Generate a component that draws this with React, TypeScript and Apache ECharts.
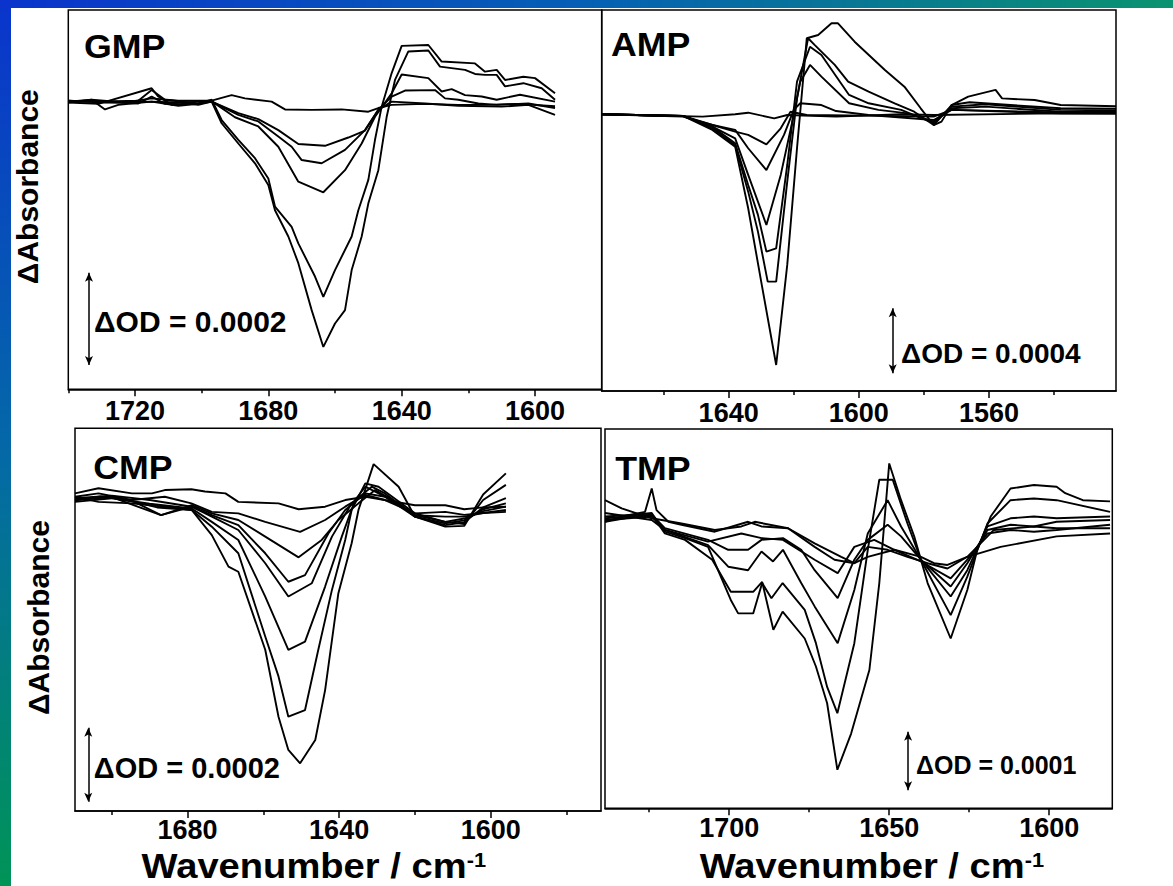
import React, { useEffect, useRef } from 'react';
import * as echarts from 'echarts';

const FONT = '"Liberation Sans", Arial, Helvetica, sans-serif';

// ---------------- DATA (wavenumber / cm-1, ΔA in units of 1e-4 OD) ----------------
// GMP
const GMP_1 = [[1740,0],[1733,0.04],[1723,-0.02],[1715,0.07],[1707,0.02],[1697,0.02],[1691,0.14],[1687,0.07],[1679,0],[1675,-0.17],[1667,-0.18],[1658,-0.17],[1650,-0.22],[1647,-0.14],[1643,-0.07],[1633,-0.05],[1623,-0.07],[1615,-0.07],[1605,-0.05],[1594,-0.1]];
const GMP_2 = [[1740,-0.02],[1733,0.04],[1729,-0.17],[1725,-0.07],[1715,0],[1707,-0.02],[1701,-0.07],[1697,0],[1689,-0.25],[1683,-0.38],[1677,-0.62],[1671,-0.92],[1663,-0.96],[1656,-0.78],[1651,-0.63],[1647,-0.18],[1643,0],[1633,-0.04],[1623,-0.09],[1610,-0.11],[1602,-0.07],[1594,-0.29]];
const GMP_3 = [[1740,0.02],[1733,0],[1719,-0.04],[1715,0.11],[1711,-0.05],[1701,0],[1697,0],[1689,-0.29],[1683,-0.43],[1677,-0.76],[1673,-0.98],[1670,-1.27],[1664,-1.34],[1657,-1.05],[1651,-0.62],[1647,-0.18],[1643,0.11],[1639,0.24],[1630,0.25],[1627,0.07],[1623,0.04],[1617,-0.04],[1611.5,-0.07],[1602,-0.04],[1594,-0.14]];
const GMP_4 = [[1740,-0.02],[1731,-0.05],[1715,0.29],[1713,0.11],[1709,-0.07],[1701,-0.04],[1697,0.01],[1690,-0.34],[1683,-0.54],[1677,-0.98],[1671,-1.74],[1663.5,-1.97],[1657,-1.49],[1652,-0.91],[1648,-0.33],[1643,0.18],[1640,0.59],[1632,0.51],[1628,0.22],[1625,0.27],[1621,0.14],[1616,0.11],[1611.5,0.04],[1604.5,0.15],[1594,0]];
const GMP_5 = [[1740,0],[1733,0],[1719,0.02],[1715,0.25],[1711,0.04],[1701,-0.04],[1697,0.04],[1694,-0.4],[1689,-0.83],[1684,-1.23],[1680,-1.67],[1678,-2.28],[1673,-2.72],[1671,-3.08],[1666,-3.8],[1663.5,-4.24],[1660,-3.66],[1655,-2.93],[1653,-2.36],[1650,-1.7],[1648,-0.83],[1646,-0.11],[1643,0.62],[1640,1.21],[1632,1.23],[1628,0.87],[1618,0.83],[1615,0.65],[1611.5,0.69],[1609,0.47],[1603.5,0.54],[1600,0.51],[1594,0.18]];
const GMP_6 = [[1740,0.02],[1729,-0.02],[1715,0],[1707,-0.09],[1701,-0.05],[1697,0],[1694,-0.47],[1689,-0.91],[1684,-1.34],[1680,-1.81],[1678,-2.36],[1674,-2.93],[1671,-3.51],[1667,-4.53],[1663.5,-5.33],[1660,-4.82],[1657,-4.53],[1655,-3.66],[1652,-2.93],[1650,-2.21],[1647,-1.49],[1644.5,-0.33],[1642,0.47],[1638,1.09],[1632,1.11],[1628.5,0.76],[1621,0.69],[1618,0.6],[1615,0.58],[1611.5,0.58],[1609,0.33],[1603.5,0.4],[1598,0.29],[1594,0.04]];

// AMP
const AMP_1 = [[1679,0],[1648,-0.14],[1638,0],[1634,0.1],[1626,-0.25],[1622,-0.04],[1607,-0.14],[1587,0],[1577,-0.04],[1538,0.06],[1521,0.04]];
const AMP_2 = [[1679,0],[1654,-0.14],[1645,-0.66],[1638,-1.07],[1634,-1.27],[1628.4,-1.85],[1624,-0.86],[1621,0.16],[1616,-0.04],[1597,-0.08],[1577,-0.14],[1571.5,0.27],[1538,0.06],[1521,0.04]];
const AMP_3 = [[1679,0],[1654,-0.1],[1645,-0.66],[1638,-0.96],[1634,-2.09],[1628.4,-3.43],[1623,-1.27],[1620,0.27],[1618,0.68],[1611.5,0.57],[1607,0.2],[1597,-0.04],[1577,-0.35],[1571.5,0.27],[1538,0.12],[1521,0.1]];
const AMP_4 = [[1679,0],[1654,-0.1],[1645,-0.76],[1638,-1.48],[1634,-3.73],[1628.4,-6.81],[1624,-3.73],[1620,-0.04],[1618,2.01],[1615,3.04],[1611.5,2.32],[1603,0.68],[1594,0.27],[1585,0.06],[1577,-0.45],[1571.5,0.37],[1561,0.47],[1538,0.16],[1521,0.14]];
const AMP_5 = [[1679,0],[1654,-0.1],[1645,-0.76],[1638,-1.78],[1634,-4.35],[1631,-6.19],[1628.4,-8.45],[1625.4,-8.25],[1622,-3.12],[1619,2.01],[1615,4.16],[1611.5,3.65],[1603,1.19],[1597,0.68],[1587,0.27],[1577,-0.55],[1571.5,0.47],[1561,0.62],[1538,0.27],[1521,0.25]];
const AMP_6 = [[1679,0],[1654,-0.1],[1645,-0.86],[1638,-1.89],[1634,-4.76],[1631,-7.22],[1628,-10.3],[1625.4,-10.3],[1622,-4.14],[1619,0.98],[1615.6,4.68],[1613.6,4.27],[1607.4,3.04],[1603.3,2.01],[1597,1.39],[1589,0.68],[1583,0.16],[1577,-0.66],[1571.5,0.57],[1566,0.74],[1538,0.37],[1521,0.35]];
const AMP_7 = [[1679,0],[1654,-0.1],[1645,-0.96],[1638,-1.99],[1634,-5.78],[1630,-10.3],[1625.4,-15.43],[1622,-9.27],[1619,-2.09],[1616,4.68],[1612.5,4.88],[1608.4,5.6],[1606.4,5.6],[1601.3,4.47],[1592,2.73],[1586,1.7],[1581,0.37],[1577,-0.66],[1574.6,-0.45],[1571.5,0.57],[1566.4,1.09],[1558,1.5],[1556,0.98],[1546,0.88],[1538,0.57],[1521,0.5]];

// CMP
const CMP_1 = [[1709.7,0.18],[1703.5,0.32],[1694.7,0.18],[1689.4,0.18],[1686,0.27],[1679,0.29],[1675.4,0.23],[1670,0.18],[1666.6,-0.05],[1656,-0.09],[1650.7,-0.25],[1643.7,-0.18],[1638.4,0],[1633,0.09],[1628,0],[1620,-0.14],[1612,-0.14],[1607,-0.25],[1602,-0.2],[1596,-0.18]];
const CMP_2 = [[1709.7,0.09],[1703.5,0.18],[1694.7,0],[1686,0.09],[1679,-0.09],[1673.6,-0.32],[1666.6,-0.36],[1659.5,-0.59],[1650.3,-0.86],[1643.7,-0.54],[1638.4,-0.18],[1633.1,0.14],[1627.9,0],[1620,-0.36],[1612,-0.32],[1607,-0.4],[1602,-0.35],[1596,-0.32]];
const CMP_3 = [[1709.7,0],[1703,0.1],[1694,-0.05],[1687,-0.41],[1678.9,-0.14],[1673.6,-0.36],[1666.6,-0.54],[1659.5,-0.99],[1650.7,-1.55],[1644.6,-1.08],[1640.2,-0.54],[1634.9,-0.09],[1630.5,0.27],[1624.3,-0.09],[1620,-0.41],[1612,-0.45],[1607,-0.45],[1602,-0.35],[1596,-0.27]];
const CMP_4 = [[1709.7,0.05],[1700,0.12],[1690,0],[1678.9,-0.18],[1673.6,-0.41],[1666.6,-0.68],[1659.5,-1.44],[1653.4,-2.21],[1649,-2.03],[1642.8,-0.9],[1638.4,-0.27],[1633.1,0.18],[1627.9,0.09],[1620,-0.41],[1612,-0.59],[1607,-0.5],[1602,-0.3],[1596,-0.18]];
const CMP_5 = [[1709.7,0],[1700,0.08],[1687,-0.41],[1678.9,-0.18],[1673.6,-0.45],[1666.6,-0.81],[1659.5,-1.71],[1653.4,-2.61],[1647.2,-2.25],[1641.9,-0.99],[1636.7,-0.09],[1631.4,0.36],[1627.9,0.18],[1620,-0.45],[1612,-0.63],[1607,-0.55],[1602,-0.25],[1596,-0.09]];
const CMP_6 = [[1709.7,-0.05],[1700,0.05],[1690,-0.1],[1678.9,-0.23],[1673.6,-0.59],[1666.6,-1.08],[1659.5,-2.61],[1653.4,-4.05],[1649,-3.83],[1643.7,-2.34],[1639.3,-0.99],[1635.8,0],[1633.1,0.36],[1627.9,0.09],[1620,-0.45],[1612,-0.68],[1607,-0.6],[1602,-0.2],[1596,0.05]];
const CMP_7 = [[1709.7,0],[1700,0.1],[1688,-0.2],[1678.9,-0.27],[1673.6,-0.72],[1666.6,-1.44],[1659.5,-3.69],[1656,-4.77],[1653.4,-5.86],[1649,-5.68],[1645.5,-4.05],[1641.9,-2.43],[1638.4,-1.08],[1636.7,-0.27],[1633.1,0.45],[1629.6,0.36],[1620,-0.36],[1612,-0.59],[1607,-0.65],[1602,0],[1596,0.41]];
const CMP_8 = [[1709.7,0.09],[1703.5,-0.05],[1694.7,-0.09],[1685.9,-0.18],[1678.9,-0.27],[1673.6,-0.95],[1669.2,-1.8],[1666.6,-1.94],[1659.5,-4.05],[1656,-5.86],[1653.4,-6.76],[1650.3,-7.12],[1646.3,-6.49],[1643.7,-5.14],[1640.2,-2.52],[1636.7,-1.17],[1634.9,-0.27],[1630.9,0.97],[1624.3,0.36],[1620,-0.45],[1612,-0.72],[1607,-0.7],[1602,0.15],[1596,0.72]];

// TMP
const TMP_1 = [[1738.8,0.31],[1733.6,0.17],[1724.2,0],[1714.9,-0.09],[1704.5,-0.2],[1696.2,-0.14],[1692,-0.06],[1681.6,-0.17],[1673.3,-0.43],[1665,-0.66],[1660.9,-0.77],[1656.7,-0.66],[1648.4,-0.54],[1640.1,-0.66],[1636,-0.77],[1631.8,-0.8],[1625.6,-0.66],[1615.2,-0.49],[1597.7,-0.31],[1581,-0.26]];
const TMP_2 = [[1738.8,-0.06],[1733.6,0.03],[1726.3,0.11],[1724.2,0.51],[1722.7,0.14],[1719,-0.06],[1714.9,-0.11],[1704.5,-0.23],[1694.1,-0.06],[1689.9,-0.14],[1681.6,-0.17],[1673.3,-0.49],[1667.1,-0.71],[1660.9,-0.77],[1656.7,-0.49],[1650.5,-0.54],[1644.3,-0.66],[1638,-0.77],[1631.8,-0.86],[1625.6,-0.66],[1617.3,-0.2],[1604.8,-0.14],[1597.7,-0.17],[1581,-0.17]];
const TMP_3 = [[1738.8,0.09],[1724.2,-0.03],[1720.1,-0.2],[1706.6,-0.4],[1696.2,-0.26],[1689.9,-0.34],[1683.2,-0.37],[1673.3,-0.71],[1666.1,-0.94],[1660.9,-0.49],[1654.7,-0.37],[1648.4,-0.54],[1640.1,-0.74],[1630.8,-1.03],[1625.6,-0.71],[1619.3,-0.26],[1612.1,-0.2],[1604.8,-0.23],[1597.7,-0.2],[1581,-0.11]];
const TMP_4 = [[1738.8,0],[1724.2,0.06],[1720.1,-0.17],[1706.6,-0.37],[1700.3,-0.54],[1694.1,-0.54],[1689.9,-0.37],[1683.2,-0.34],[1677.5,-0.54],[1673.3,-0.89],[1666.1,-1.37],[1660.9,-0.71],[1656.7,-0.37],[1650.5,-0.11],[1646.3,-0.31],[1640.1,-0.71],[1630.8,-1.17],[1625.6,-0.77],[1619.3,-0.2],[1612.1,-0.11],[1604.8,-0.14],[1597.7,-0.06],[1581,-0.03]];
const TMP_5 = [[1738.8,-0.03],[1724.2,0.03],[1720.1,-0.2],[1706.6,-0.46],[1700.3,-0.83],[1694.1,-0.89],[1689.9,-0.57],[1686.3,-0.74],[1683.2,-0.54],[1677.5,-1.11],[1673.3,-1.51],[1666.1,-2.14],[1660.9,-1.23],[1656.7,-0.26],[1650.5,0.31],[1646.3,-0.14],[1640.1,-0.71],[1630.8,-1.34],[1625.6,-0.89],[1619.3,-0.14],[1612.1,0],[1604.8,0.03],[1597.7,0],[1581,0.03]];
const TMP_6 = [[1738.8,0.03],[1729.4,0.06],[1724.2,0.09],[1720.1,-0.23],[1713.8,-0.34],[1706.6,-0.49],[1699.5,-1.4],[1697.2,-1.63],[1692.5,-1.63],[1689.7,-1.11],[1686.8,-1.37],[1683.3,-1.11],[1676.4,-1.57],[1672.9,-2.14],[1669.4,-2.89],[1666.2,-3.34],[1660.9,-2.14],[1656.7,-0.54],[1653.1,0.66],[1648.9,0.66],[1644.3,-0.09],[1640.1,-0.71],[1630.8,-1.66],[1625.6,-1],[1619.3,-0.09],[1612.1,0.31],[1604.8,0.34],[1597.7,0.31],[1581,0.11]];
const TMP_7 = [[1738.8,-0.06],[1729.4,0.03],[1724.2,0.06],[1720.1,-0.26],[1713.8,-0.37],[1705.3,-0.71],[1699.5,-1.26],[1692.5,-1.26],[1689.7,-1.09],[1686.2,-1.91],[1683.3,-1.6],[1676.4,-2.06],[1672.9,-2.54],[1669.4,-3.17],[1666.2,-4.31],[1661.9,-3.69],[1656.2,-2.6],[1653.1,-1.11],[1650,0.94],[1646.3,0.31],[1642.2,-0.31],[1638,-1.11],[1630.8,-2.06],[1625.6,-1.23],[1622.5,-0.54],[1618.3,0.03],[1612.1,0.51],[1604.8,0.57],[1597.7,0.54],[1595,0.43],[1589.5,0.31],[1581,0.29]];

// Axis ranges, ticks and scale-bar values
const X_RANGES = [[1580, 1740], [1521, 1679], [1570.9, 1709.7], [1580.3, 1738.8]];
const Y_RANGES = [[-6.25, 1.99], [-17.03, 6.42], [-8.41, 1.94], [-4.97, 1.53]];
const MAJOR_TICKS = [[1720, 1680, 1640, 1600], [1640, 1600, 1560], [1680, 1640, 1600], [1700, 1650, 1600]];
const MINOR_TICKS = [[1740, 1700, 1660, 1620], [1660, 1620, 1580, 1540], [1700, 1660, 1620, 1580], [1725, 1675, 1625]];
const PANEL_NAMES = ['GMP', 'AMP', 'CMP', 'TMP'];
const SCALE_TEXT = ['ΔOD = 0.0002', 'ΔOD = 0.0004', 'ΔOD = 0.0002', 'ΔOD = 0.0001'];
// scale bar: [x, yStart, yEnd]
const SCALE_BAR = [[1733.8, -3.72, -5.72], [1589.6, -11.94, -15.94], [1706.2, -6.16, -8.16], [1644.1, -3.66, -4.66]];

const CURVES = [
  [GMP_1, GMP_2, GMP_3, GMP_4, GMP_5, GMP_6],
  [AMP_1, AMP_2, AMP_3, AMP_4, AMP_5, AMP_6, AMP_7],
  [CMP_1, CMP_2, CMP_3, CMP_4, CMP_5, CMP_6, CMP_7, CMP_8],
  [TMP_1, TMP_2, TMP_3, TMP_4, TMP_5, TMP_6, TMP_7],
];

// ---------------- LAYOUT / STYLE ----------------
const GRID_BOX = [
  { left: 68.3, top: 10, width: 533.4, height: 379.3 },
  { left: 601.7, top: 10, width: 514.3, height: 381 },
  { left: 75, top: 428.3, width: 526, height: 382.7 },
  { left: 605, top: 429, width: 507.3, height: 379.3 },
];
const LABEL_MARGIN = [8, 8, 5, 6];
const NAME_POS = [[84, 45.8], [611, 44.2], [93.3, 466.7], [615.3, 467.5]];
const SCALE_TEXT_POS = [[94, 321], [901, 353.3], [93.8, 768.3], [916, 765]];
const SCALE_FONT = [30, 28, 29, 25];

export default function App() {
  const ref = useRef<HTMLDivElement>(null);
  useEffect(() => {
    if (!ref.current) return;
    const chart = echarts.init(ref.current, undefined, { renderer: 'svg' });
    const grid: any[] = [];
    const xAxis: any[] = [];
    const yAxis: any[] = [];
    const series: any[] = [];
    for (let i = 0; i < 4; i++) {
      grid.push({ ...GRID_BOX[i], show: true, borderColor: '#000', borderWidth: 1.5, backgroundColor: 'rgba(0,0,0,0)' });
      const [xmin, xmax] = X_RANGES[i];
      xAxis.push({
        type: 'value', gridIndex: i, inverse: true, min: xmin, max: xmax, position: 'bottom',
        axisLine: { show: true, onZero: false, lineStyle: { color: '#000', width: 1.5 } },
        axisTick: { show: true, customValues: MAJOR_TICKS[i], length: 7, lineStyle: { color: '#000', width: 1.5 } },
        axisLabel: {
          show: true, customValues: MAJOR_TICKS[i], margin: LABEL_MARGIN[i], fontSize: 27, lineHeight: 27, fontWeight: 'bold',
          fontFamily: FONT, color: '#000', formatter: (v: number) => String(Math.round(v)),
        },
        splitLine: { show: false },
      });
      xAxis.push({
        type: 'value', gridIndex: i, inverse: true, min: xmin, max: xmax, position: 'bottom', offset: 0,
        axisLine: { show: false, onZero: false },
        axisTick: { show: true, customValues: MINOR_TICKS[i], length: 4, lineStyle: { color: '#000', width: 1.5 } },
        axisLabel: { show: false },
        splitLine: { show: false },
      });
      yAxis.push({ type: 'value', gridIndex: i, min: Y_RANGES[i][0], max: Y_RANGES[i][1], show: false, splitLine: { show: false } });
      CURVES[i].forEach((d) => {
        series.push({
          type: 'line', xAxisIndex: 2 * i, yAxisIndex: i, data: d, showSymbol: false, symbol: 'none',
          lineStyle: { color: '#000', width: 1.9 }, silent: true, z: 3,
        });
      });
      const sb = SCALE_BAR[i];
      series.push({
        type: 'scatter', xAxisIndex: 2 * i, yAxisIndex: i, data: [[sb[0], sb[1]]], symbolSize: 0.1,
        itemStyle: { color: 'rgba(0,0,0,0)' }, silent: true,
        markLine: {
          silent: true, symbol: ['arrow', 'arrow'], symbolSize: [6, 9],
          lineStyle: { color: '#000', width: 1.5, type: 'solid' }, label: { show: false },
          data: [[{ coord: [sb[0], sb[1]] }, { coord: [sb[0], sb[2]] }]],
        },
      });
    }

    const graphic: any[] = [
      { type: 'rect', z: -10, shape: { x: 0, y: 0, width: 1173, height: 886 }, style: { fill: '#fff' } },
      {
        type: 'rect', z: -5, shape: { x: 0, y: 0, width: 1173, height: 8 },
        style: { fill: new echarts.graphic.LinearGradient(0, 0, 1, 0, [
          { offset: 0, color: '#0a34cc' }, { offset: 0.5, color: '#0560b4' }, { offset: 1, color: '#0a9370' }]) },
      },
      {
        type: 'rect', z: -5, shape: { x: 0, y: 0, width: 11, height: 886 },
        style: { fill: new echarts.graphic.LinearGradient(0, 0, 0, 1, [
          { offset: 0, color: '#0a34cc' }, { offset: 0.5, color: '#0468a8' }, { offset: 1, color: '#009457' }]) },
      },
    ];
    PANEL_NAMES.forEach((n, i) => {
      graphic.push({
        type: 'text', x: NAME_POS[i][0], y: NAME_POS[i][1], scaleX: 1.05, z: 10,
        style: { text: n, fill: '#000', font: `bold 34px ${FONT}`, textAlign: 'left', textVerticalAlign: 'middle' },
      });
    });
    SCALE_TEXT.forEach((t, i) => {
      graphic.push({
        type: 'text', x: SCALE_TEXT_POS[i][0], y: SCALE_TEXT_POS[i][1], z: 10,
        style: { text: t, fill: '#000', font: `bold ${SCALE_FONT[i]}px ${FONT}`, textAlign: 'left', textVerticalAlign: 'middle' },
      });
    });
    [[27.7, 186.7], [38, 617.5]].forEach((p) => {
      graphic.push({
        type: 'text', x: p[0], y: p[1], rotation: Math.PI / 2, z: 10,
        style: { text: 'ΔAbsorbance', fill: '#000', font: `bold 30px ${FONT}`, textAlign: 'center', textVerticalAlign: 'middle' },
      });
    });
    [[141.6, 866], [699.7, 866]].forEach((p) => {
      graphic.push({
        type: 'text', x: p[0], y: p[1], scaleX: 1.09, z: 10,
        style: {
          text: '{a|Wavenumber / cm}{s|-1}', fill: '#000', textAlign: 'left', textVerticalAlign: 'middle',
          rich: {
            a: { fontSize: 35, fontWeight: 'bold', fontFamily: FONT, lineHeight: 32, fill: '#000' },
            s: { fontSize: 20, fontWeight: 'bold', fontFamily: FONT, lineHeight: 20, verticalAlign: 'top', fill: '#000' },
          },
        },
      });
    });

    chart.setOption({
      animation: false,
      backgroundColor: '#fff',
      grid, xAxis, yAxis, series, graphic,
    });
    return () => chart.dispose();
  }, []);
  return <div ref={ref} style={{ position: 'fixed', left: 0, top: 0, width: 1173, height: 886 }} />;
}
